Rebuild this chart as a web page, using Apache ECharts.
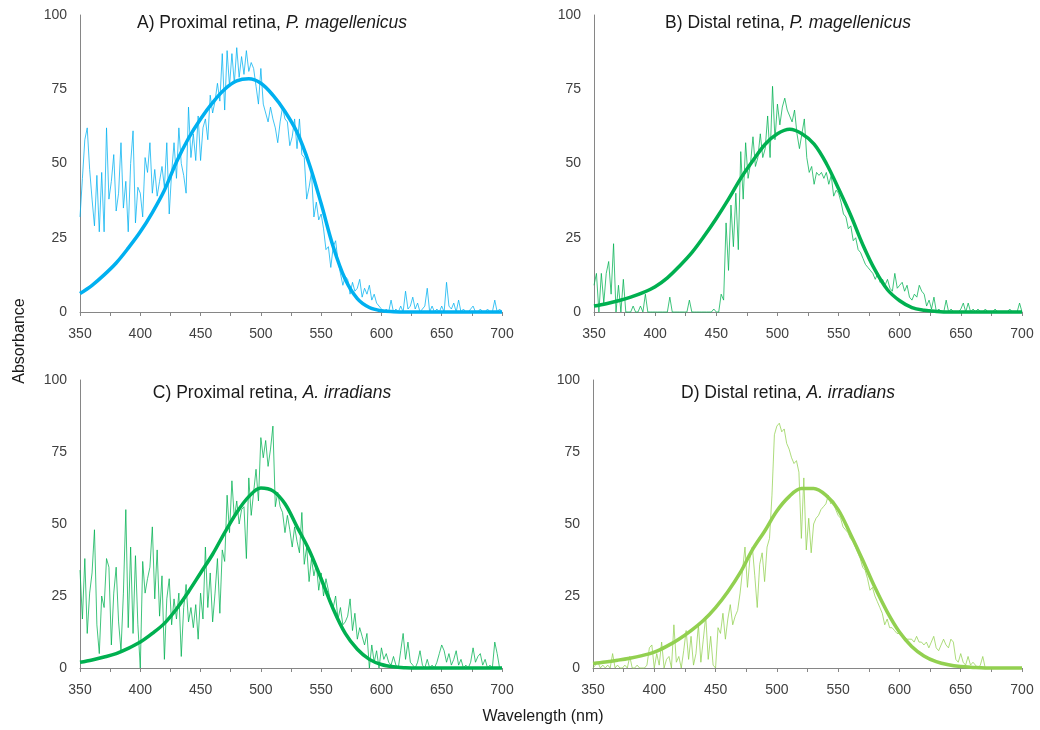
<!DOCTYPE html>
<html>
<head>
<meta charset="utf-8">
<script src="https://cdn.jsdelivr.net/npm/echarts@6/dist/echarts.min.js"></script>
<style>
html,body{margin:0;padding:0;background:#fff;}
#chart{width:1040px;height:730px;}
</style>
</head>
<body>
<div id="chart"></div>
<script>
// Wavelength grid of the measured (noisy) spectra, nm
const wavelengths = [
350,352,354,356,358,360,362,364,366,368,
370,372,374,376,378,380,382,384,386,388,
390,392,394,396,398,400,402,404,406,408,
410,412,414,416,418,420,422,424,426,428,
430,432,434,436,438,440,442,444,446,448,
450,452,454,456,458,460,462,464,466,468,
470,472,474,476,478,480,482,484,486,488,
490,492,494,496,498,500,502,504,506,508,
510,512,514,516,518,520,522,524,526,528,
530,532,534,536,538,540,542,544,546,548,
550,552,554,556,558,560,562,564,566,568,
570,572,574,576,578,580,582,584,586,588,
590,592,594,596,598,600,602,604,606,608,
610,612,614,616,618,620,622,624,626,628,
630,632,634,636,638,640,642,644,646,648,
650,652,654,656,658,660,662,664,666,668,
670,672,674,676,678,680,682,684,686,688,
690,692,694,696,698,700];

// Measured absorbance, panel A
const measuredA = [
32,45,58,62,48,38,29,46,27,47,
27,62,38,44,53,34,40,57,35,44,
27,50,61,30,42,40,32,52,47,57,
40,48,39,44,49,42,57,33,47,57,
45,62,50,46,40,69,52,60,51,66,
51,62,65,58,73,67,71,77,71,87,
68,88,76,87,77,89,79,86,80,88,
81,84,82,76,70,82,70,67,64,69,
65,62,57,64,69,65,64,56,59,65,
55,65,53,52,38,42,47,32,37,31,
33,28,21,22,15,22,24,17,13,9,
12,11,6,10,7,8,11,5,8,6,
9,4,6,3,2,1,0,1,0,4,
0,1,0,2,0,7,1,2,5,1,
3,0,1,2,8,0,2,0,1,0,
2,0,10,2,1,3,0,4,0,1,
0,0,1,2,0,0,1,0,0,1,
0,0,4,0,1,0];

// Measured absorbance, panel B
const measuredB = [
9,13,0,13,3,13,17,6,23,0,
9,0,11,0,0,0,2,0,0,2,
0,6,0,0,0,0,0,0,0,0,
0,5,0,0,0,0,0,0,0,4,
0,0,0,0,0,0,0,0,0,1,
0,0,6,4,30,14,36,22,40,21,
54,38,57,45,50,59,49,52,60,52,
55,66,52,76,58,70,63,69,72,68,
66,64,68,60,55,60,65,52,47,49,
43,47,46,47,45,47,43,46,39,41,
40,37,33,32,28,29,24,25,21,20,
18,16,15,14,13,11,13,10,11,9,
11,8,7,13,8,9,10,7,9,5,
4,6,5,9,7,6,2,4,1,5,
0,1,0,0,4,0,1,0,0,0,
1,3,0,3,0,1,0,1,0,0,
1,0,0,0,1,0,0,0,0,0,
1,0,0,0,3,0];

// Measured absorbance, panel C
const measuredC = [
34,17,38,12,26,33,48,15,5,25,
21,38,35,8,26,35,16,6,26,55,
14,42,12,39,15,0,37,26,31,35,
49,24,41,18,32,3,24,31,15,24,
17,26,4,21,29,16,21,14,22,10,
26,17,42,21,33,16,26,38,19,41,
37,60,47,65,52,58,50,55,56,38,
66,53,61,69,58,80,73,79,70,76,
84,56,61,56,54,47,53,48,42,49,
44,40,54,36,42,30,38,32,36,27,
33,25,31,27,22,21,25,17,21,15,
16,18,24,13,19,10,14,11,8,12,
0,8,2,6,0,7,3,5,2,1,
4,1,0,6,12,3,9,2,1,0,
2,6,1,0,3,0,1,0,2,5,
8,6,2,5,1,3,6,1,3,0,
1,0,2,7,2,4,5,1,3,0,
1,0,9,5,0,0];

// Measured absorbance, panel D (no data beyond ~670 nm)
const measuredD = [
0,1,2,0,1,0,1,0,5,0,
1,0,0,1,0,4,0,0,1,0,
0,0,1,7,8,0,5,1,9,0,
3,4,0,15,2,4,0,6,13,3,
11,1,5,15,2,10,18,3,11,1,
0,14,12,19,10,17,22,15,18,20,
26,34,42,28,38,42,32,21,36,40,
30,42,45,60,81,84,85,82,83,78,
76,73,71,72,68,45,66,41,52,40,
50,52,53,55,56,57,60,57,58,55,
53,52,49,48,47,45,44,42,40,38,
35,34,31,27,28,25,23,21,19,15,
17,14,14,13,12,12,11,11,10,10,
10,9,11,9,9,8,9,7,9,11,
7,6,8,10,8,7,10,9,3,2,
5,2,1,4,1,2,1,0,1,4,
0,null,null,null,null,null,null,null,null,null,
null,null,null,null,null,null];

// Fitted template curves, sampled every 10 nm
const fitWavelengths = [350,360,370,380,390,400,410,420,430,440,450,460,470,480,490,500,510,520,530,540,550,560,570,580,590,600,610,620,630,640,650,660,670,680,690,700];
const fitA = [6.2,9,12.5,16.5,21.5,27,33.5,41,50.5,58.5,65,70.5,75,77.8,78.5,77,73,67.5,60.5,50,36.5,22,11,4.5,1.5,0.4,0.1,0,0,0,0,0,0,0,0,0];
const fitB = [2,2.8,3.8,5,6.5,8.5,11.5,15.5,20,25.5,31.5,38,45,51,56.5,60,61.5,60,56.5,50,41.5,32.5,22.5,14,7.5,3.8,1.5,0.6,0.2,0,0,0,0,0,0,0];
const fitC = [2,2.8,3.8,5,6.8,9,12,15.5,20.5,26.5,33,39.5,47,54,59.5,62.5,61.5,57,49,41,31,20.5,12,6.5,3,1.2,0.4,0.1,0,0,0,0,0,0,0,0];
const fitD = [1.6,2.1,2.7,3.4,4.3,5.5,7.5,10,13,16.5,21,26.5,33,41,47.5,54.5,59.5,62.3,62.3,60,55,46.5,37.5,28,19.5,12.5,7.5,4.2,2.2,1.1,0.5,0.2,0,0,0,0];

const panelTitles = [
  ['A) Proximal retina, ', 'P. magellenicus'],
  ['B) Distal retina, ', 'P. magellenicus'],
  ['C) Proximal retina, ', 'A. irradians'],
  ['D) Distal retina, ', 'A. irradians']
];
const yTicks = [0, 25, 50, 75, 100];
const xLabelsShown = [350, 400, 450, 500, 550, 600, 650, 700];

const measured = [measuredA, measuredB, measuredC, measuredD];
const fits = [fitA, fitB, fitC, fitD];
const colors = ['#00B0F0', '#00B050', '#00B050', '#92D050'];

const FONT = '"Liberation Sans", Arial, sans-serif';
const grids = [
  {left: 80, top: 15, width: 422, height: 297},
  {left: 594, top: 15, width: 428, height: 297},
  {left: 80, top: 380, width: 422, height: 288},
  {left: 593, top: 380, width: 429, height: 288}
];
const titlePos = [[272, 23], [788, 23], [272, 393], [788, 393]];

const axisColor = '#868686';
const labelColor = '#404040';

const xAxes = grids.map((g, i) => ({
  type: 'value', gridIndex: i, min: 350, max: 700, interval: 25,
  axisLine: {show: true, onZero: false, lineStyle: {color: axisColor, width: 1}},
  axisTick: {show: true, length: 4, lineStyle: {color: axisColor}},
  splitLine: {show: false},
  axisLabel: {
    color: labelColor, fontSize: 14, fontFamily: FONT, margin: 15,
    formatter: v => xLabelsShown.indexOf(v) >= 0 ? String(v) : ''
  }
}));
const yAxes = grids.map((g, i) => ({
  type: 'value', gridIndex: i, min: yTicks[0], max: yTicks[yTicks.length - 1], interval: 25,
  axisLine: {show: true, lineStyle: {color: axisColor, width: 1}},
  axisTick: {show: false},
  splitLine: {show: false},
  axisLabel: {color: labelColor, fontSize: 14, fontFamily: FONT, margin: 13}
}));

const series = [];
for (let i = 0; i < 4; i++) {
  series.push({
    type: 'line', xAxisIndex: i, yAxisIndex: i,
    data: wavelengths.map((w, k) => [w, measured[i][k]]),
    showSymbol: false, symbol: 'none', clip: false, connectNulls: false,
    lineStyle: {color: colors[i], width: 1, opacity: 0.75},
    z: 3, silent: true, animation: false
  });
  series.push({
    type: 'line', xAxisIndex: i, yAxisIndex: i,
    data: fitWavelengths.map((w, k) => [w, fits[i][k]]),
    showSymbol: false, symbol: 'none', clip: false, smooth: 0.35,
    lineStyle: {color: colors[i], width: 3.5},
    z: 4, silent: true, animation: false
  });
}

const graphics = panelTitles.map((t, i) => ({
  type: 'text', x: titlePos[i][0], y: titlePos[i][1],
  style: {
    text: '{n|' + t[0] + '}{it|' + t[1] + '}',
    textAlign: 'center', textVerticalAlign: 'middle',
    rich: {
      n: {fontSize: 17.5, fontFamily: FONT, fill: '#1a1a1a', fontStyle: 'normal'},
      it: {fontSize: 17.5, fontFamily: FONT, fill: '#1a1a1a', fontStyle: 'italic'}
    }
  }
}));
graphics.push({
  type: 'text', x: 20, y: 341, rotation: Math.PI / 2,
  style: {text: 'Absorbance', textAlign: 'center', textVerticalAlign: 'middle',
          fontSize: 16, fontFamily: FONT, fill: '#1a1a1a'}
});
graphics.push({
  type: 'text', x: 543, y: 717,
  style: {text: 'Wavelength (nm)', textAlign: 'center', textVerticalAlign: 'middle',
          fontSize: 16, fontFamily: FONT, fill: '#1a1a1a'}
});

const chart = echarts.init(document.getElementById('chart'), null, {renderer: 'canvas'});
chart.setOption({
  animation: false,
  backgroundColor: '#ffffff',
  grid: grids,
  xAxis: xAxes,
  yAxis: yAxes,
  series: series,
  graphic: graphics
});
</script>
</body>
</html>
